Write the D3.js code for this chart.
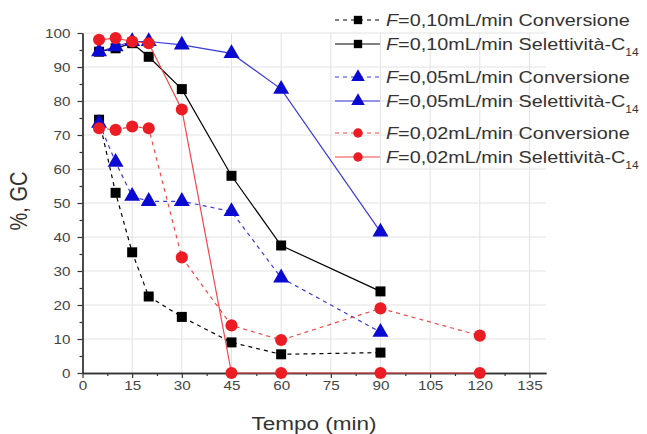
<!DOCTYPE html>
<html>
<head>
<meta charset="utf-8">
<script src="https://cdn.jsdelivr.net/npm/d3@7"></script>
<style>
  body { margin: 0; background: #fff; }
  svg { display: block; font-family: "Liberation Sans", Arial, sans-serif; }
</style>
</head>
<body>
<svg id="chart" width="647" height="434"></svg>
<script>
// data
const times = [5, 10, 15, 20, 30, 45, 60, 90];
const times002 = [5, 10, 15, 20, 30, 45, 60, 90, 120];

const conv010 = [74.5, 53, 35.5, 22.5, 16.5, 9, 5.5, 6];
const sel010 = [94.5, 95.5, 97, 93, 83.5, 58, 37.5, 24];
const conv005 = [73.5, 62, 52, 50.5, 50.5, 47.5, 28, 12];
const sel005 = [94.5, 96, 97.5, 97.5, 96.5, 94, 83.5, 41.5];
const conv002 = [72, 71.5, 72.5, 72, 34, 14, 9.7, 19, 11];
const sel002 = [98, 98.5, 97.5, 97, 77.5, 0, 0, 0, 0];

const xTicks = [0, 15, 30, 45, 60, 75, 90, 105, 120, 135];
const yTicks = [0, 10, 20, 30, 40, 50, 60, 70, 80, 90, 100];

const series = [
  { flow: '0,10', kind: 'Conversione', x: times, y: conv010, color: '#000', symbol: d3.symbolSquare, dashed: true },
  { flow: '0,10', kind: 'Selettività', x: times, y: sel010, color: '#000', symbol: d3.symbolSquare, dashed: false },
  { flow: '0,05', kind: 'Conversione', x: times, y: conv005, color: '#0a0ad2', line: '#3a3ae0', symbol: d3.symbolTriangle, dashed: true },
  { flow: '0,05', kind: 'Selettività', x: times, y: sel005, color: '#0a0ad2', line: '#3a3ae0', symbol: d3.symbolTriangle, dashed: false },
  { flow: '0,02', kind: 'Conversione', x: times002, y: conv002, color: '#ec1c24', line: '#f04848', symbol: d3.symbolCircle, dashed: true },
  { flow: '0,02', kind: 'Selettività', x: times002, y: sel002, color: '#ec1c24', line: '#f04848', symbol: d3.symbolCircle, dashed: false }
];

const svg = d3.select('#chart');
const width = 647, height = 434;
const margin = { left: 82.5, top: 33, right: 101, bottom: 61 };
const stretch = 1.22; // reference text looks horizontally stretched

const x = d3.scaleLinear().domain([0, 140]).range([margin.left, width - margin.right]);
const y = d3.scaleLinear().domain([0, 100]).range([height - margin.bottom, margin.top]);

// grid
const grid = svg.append('g').attr('stroke', '#e2e2e2').attr('stroke-width', 1);
grid.selectAll('line.v')
  .data(xTicks.filter(d => d > 0))
  .join('line')
  .attr('x1', d => x(d)).attr('x2', d => x(d))
  .attr('y1', y(0)).attr('y2', y(100));
grid.selectAll('line.h')
  .data(yTicks.filter(d => d > 0))
  .join('line')
  .attr('x1', x(0)).attr('x2', x(140))
  .attr('y1', d => y(d)).attr('y2', d => y(d));

// axes
const xAxis = svg.append('g')
  .attr('transform', `translate(0,${y(0)})`)
  .call(d3.axisBottom(x).tickValues(xTicks).tickSize(5).tickPadding(3).tickSizeOuter(0));
svg.append('g')
  .attr('transform', `translate(0,${y(0)})`)
  .call(d3.axisBottom(x).tickValues(d3.range(7.5, 140, 15)).tickSize(3).tickFormat('').tickSizeOuter(0));

const yAxis = svg.append('g')
  .attr('transform', `translate(${x(0)},0)`)
  .call(d3.axisLeft(y).tickValues(yTicks).tickSize(5).tickSizeOuter(0));
svg.append('g')
  .attr('transform', `translate(${x(0)},0)`)
  .call(d3.axisLeft(y).tickValues(d3.range(5, 100, 10)).tickSize(3).tickFormat('').tickSizeOuter(0));

svg.selectAll('.domain').attr('stroke', '#333').attr('stroke-width', 1.3);
svg.selectAll('.tick line').attr('stroke', '#333').attr('stroke-width', 1.2);

xAxis.selectAll('text')
  .attr('font-size', 12.5)
  .attr('fill', '#444')
  .attr('transform', `scale(${stretch},1)`);
yAxis.selectAll('text')
  .attr('font-size', 12.5)
  .attr('fill', '#444')
  .attr('x', -12 / stretch)
  .attr('transform', `scale(${stretch},1)`);

// axis titles
svg.append('text')
  .attr('transform', `translate(314,430) scale(1.25,1)`)
  .attr('text-anchor', 'middle')
  .attr('font-size', 18)
  .attr('fill', '#333')
  .text('Tempo (min)');

svg.append('text')
  .attr('transform', `translate(27,${y(50) - 2}) rotate(-90) scale(1,${stretch})`)
  .attr('text-anchor', 'middle')
  .attr('font-size', 20)
  .attr('fill', '#333')
  .text('%, GC');

// series
const lineGen = (s) => d3.line()
  .x((d, i) => x(s.x[i]))
  .y(d => y(d));

const plot = svg.append('g');
series.forEach(s => {
  const g = plot.append('g');
  g.append('path')
    .attr('d', lineGen(s)(s.y))
    .attr('fill', 'none')
    .attr('stroke', s.line || s.color)
    .attr('stroke-width', 1.2)
    .attr('stroke-dasharray', s.dashed ? '4,4' : null);
  g.selectAll('path.m')
    .data(s.y)
    .join('path')
    .attr('class', 'm')
    .attr('transform', (d, i) => `translate(${x(s.x[i])},${y(d)})`)
    .attr('d', d3.symbol().type(s.symbol).size(s.symbol === d3.symbolTriangle ? 110 : s.symbol === d3.symbolCircle ? 115 : 100))
    .attr('fill', s.color);
});

// legend
const legendRows = [20, 44, 77, 101, 133, 157];
const legend = svg.append('g');
series.forEach((s, i) => {
  const g = legend.append('g').attr('transform', `translate(335,${legendRows[i]})`);
  g.append('line')
    .attr('x1', 0).attr('x2', 45)
    .attr('stroke', s.line || s.color)
    .attr('stroke-width', 1.2)
    .attr('stroke-dasharray', s.dashed ? '4,4' : null);
  g.append('path')
    .attr('transform', 'translate(23,0)')
    .attr('d', d3.symbol().type(s.symbol).size(s.symbol === d3.symbolTriangle ? 80 : 70))
    .attr('fill', s.color);
  const t = g.append('text')
    .attr('transform', `translate(51,6) scale(1.2,1)`)
    .attr('font-size', 16.5)
    .attr('fill', '#333');
  t.append('tspan').attr('font-style', 'italic').text('F');
  t.append('tspan').text(`=${s.flow}mL/min ${s.kind === 'Conversione' ? 'Conversione' : 'Selettività-C'}`);
  if (s.kind !== 'Conversione') {
    t.append('tspan').attr('font-size', 10).attr('dy', 6).text('14');
  }
});
</script>
</body>
</html>
